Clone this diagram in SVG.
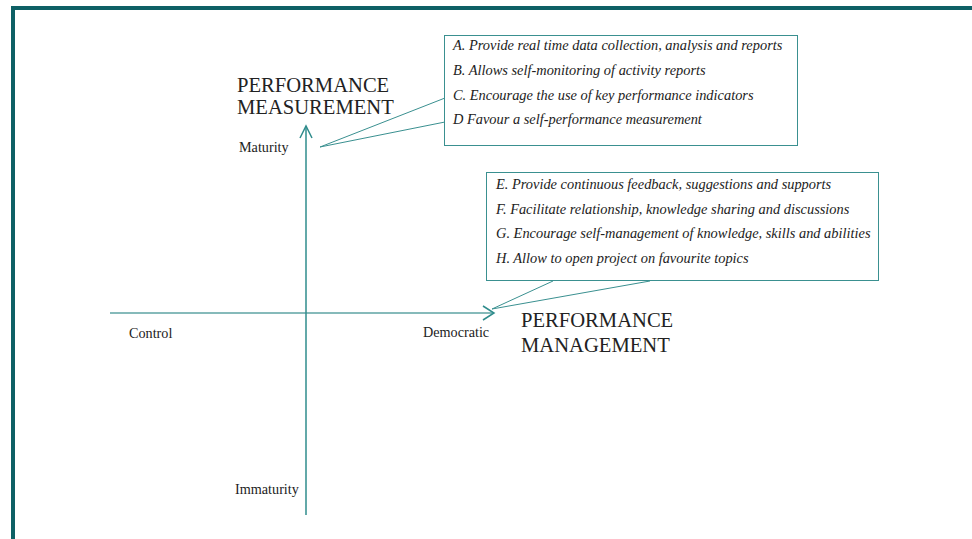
<svg xmlns="http://www.w3.org/2000/svg" width="972" height="539" viewBox="0 0 972 539">
<style>
.lbl{font-family:"Liberation Serif","Times New Roman",serif;fill:#222;}
.big{font-size:20.6px;}
.sm{font-size:14.2px;}
.it{font-family:"Liberation Serif","Times New Roman",serif;font-style:italic;font-size:14.4px;fill:#222;}
.box{fill:#fff;stroke:#3a9090;stroke-width:1;}
.ax{stroke:#2f8c8c;stroke-width:1.5;fill:none;}
.axh{stroke:#86baba;stroke-width:2;fill:none;}
.ptr{stroke:#3a9090;stroke-width:1;fill:none;}
</style>
<rect x="0" y="0" width="972" height="539" fill="#fff"/>
<path d="M13,539 V8 H972" fill="none" stroke="#0e6065" stroke-width="4"/>
<g id="connectors">
<line class="axh" x1="110" y1="313" x2="493" y2="313"/>
<polyline class="ax" points="483,306 494,313 483,320"/>
<line class="ax" x1="306" y1="126" x2="306" y2="515"/>
<polyline class="ax" points="300,138 306,126 312,138"/>
<line class="ptr" x1="445" y1="98" x2="320" y2="147"/>
<line class="ptr" x1="445" y1="122" x2="320" y2="147"/>
<line class="ptr" x1="553" y1="281" x2="492" y2="309"/>
<line class="ptr" x1="650" y1="281" x2="492" y2="309"/>
</g>
<g id="box-measurement">
<rect class="box" x="444.5" y="35.5" width="353" height="110"/>
<text class="it" x="453" y="50">A. Provide real time data collection, analysis and reports</text>
<text class="it" x="453" y="75">B. Allows self-monitoring of activity reports</text>
<text class="it" x="453" y="100">C. Encourage the use of key performance indicators</text>
<text class="it" x="453" y="124">D Favour a self-performance measurement</text>
</g>
<g id="box-management">
<rect class="box" x="486.5" y="172.5" width="392" height="108"/>
<text class="it" x="496" y="189">E. Provide continuous feedback, suggestions and supports</text>
<text class="it" x="496" y="214">F. Facilitate relationship, knowledge sharing and discussions</text>
<text class="it" x="496" y="238">G. Encourage self-management of knowledge, skills and abilities</text>
<text class="it" x="496" y="263">H. Allow to open project on favourite topics</text>
</g>
<g id="title-measurement">
<text class="lbl big" x="237" y="92">PERFORMANCE</text>
<text class="lbl big" x="237" y="114">MEASUREMENT</text>
</g>
<g id="title-management">
<text class="lbl big" x="521" y="327">PERFORMANCE</text>
<text class="lbl big" x="521" y="352">MANAGEMENT</text>
</g>
<g id="label-maturity"><text class="lbl sm" x="239" y="152">Maturity</text></g>
<g id="label-immaturity"><text class="lbl sm" x="235" y="494">Immaturity</text></g>
<g id="label-control"><text class="lbl sm" x="129" y="338">Control</text></g>
<g id="label-democratic"><text class="lbl sm" x="423" y="337">Democratic</text></g>
</svg>
